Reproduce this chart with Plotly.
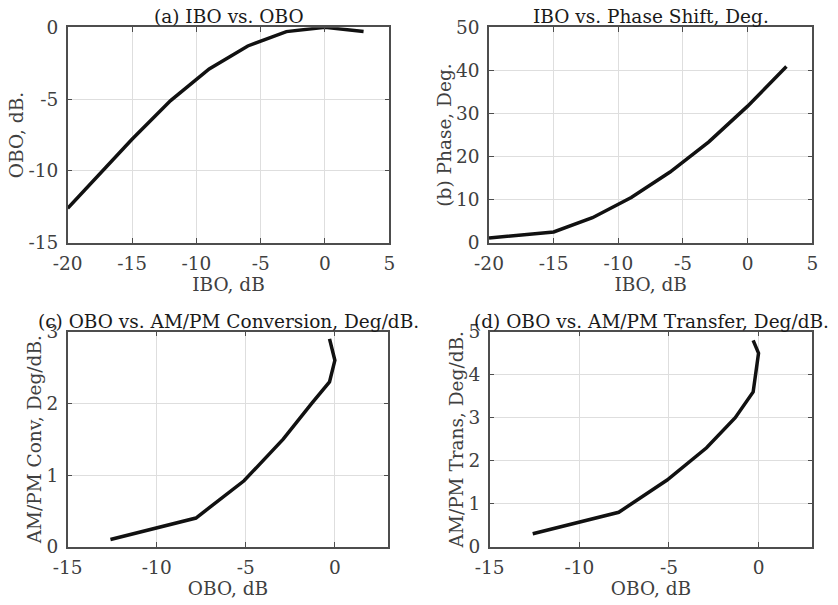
import plotly.graph_objects as go

# Data
ibo = [-20, -15, -12, -9, -6, -3, 0, 3]
obo = [-12.6, -7.8, -5.1, -2.9, -1.3, -0.3, 0, -0.3]
phase = [1.1, 2.5, 5.8, 10.5, 16.4, 23.4, 31.7, 40.9]
ampm_conv = [0.1, 0.4, 0.92, 1.5, 2.0, 2.3, 2.6, 2.9]
ampm_trans = [0.3, 0.8, 1.55, 2.3, 3.0, 3.6, 4.5, 4.8]

titles = ["(a) IBO vs. OBO", "IBO vs. Phase Shift, Deg.",
          "(c) OBO vs. AM/PM Conversion, Deg/dB.", "(d) OBO vs. AM/PM Transfer, Deg/dB."]
xlabels = ["IBO, dB", "IBO, dB", "OBO, dB", "OBO, dB"]
ylabels = ["OBO, dB.", "(b) Phase, Deg.", "AM/PM Conv, Deg/dB.", "AM/PM Trans, Deg/dB."]

xranges = [[-20, 5], [-20, 5], [-15, 3], [-15, 3]]
yranges = [[-15, 0], [0, 50], [0, 3], [0, 5]]
xticks = [[-20, -15, -10, -5, 0, 5], [-20, -15, -10, -5, 0, 5], [-15, -10, -5, 0], [-15, -10, -5, 0]]
yticks = [[-15, -10, -5, 0], [0, 10, 20, 30, 40, 50], [0, 1, 2, 3], [0, 1, 2, 3, 4, 5]]

W, H = 838, 605
FONT = "DejaVu Serif"
FS = 18.5
TXT = "#404040"
TITLE_C = "#1a1a1a"

# pixel boxes (left, right, top, bottom)
boxes = [(67.7, 389.3, 27.3, 242.7), (489.0, 812.3, 27.3, 242.7),
         (67.7, 388.3, 331.7, 546.7), (489.7, 812.3, 331.7, 546.7)]

series = [(ibo, obo), (ibo, phase), (obo, ampm_conv), (obo, ampm_trans)]


def lab(v):
    return str(v).replace("−", "-")


fig = go.Figure()
layout = dict(width=W, height=H, margin=dict(l=0, r=0, t=0, b=0, autoexpand=False),
              paper_bgcolor="white", plot_bgcolor="white", showlegend=False,
              font=dict(family=FONT, size=FS, color=TXT), annotations=[])

for i, ((xs, ys), (l, r, t, b)) in enumerate(zip(series, boxes)):
    n = "" if i == 0 else str(i + 1)
    fig.add_trace(go.Scatter(x=xs, y=ys, mode="lines", xaxis="x" + n, yaxis="y" + n,
                             line=dict(color="#111111", width=3.5), hoverinfo="skip"))
    common = dict(showline=True, linecolor="#4d4d4d", linewidth=1.5, mirror="ticks",
                  ticks="inside", ticklen=5, tickcolor="#4d4d4d", tickwidth=1,
                  showgrid=True, gridcolor="#dedede", gridwidth=1.2, zeroline=False,
                  automargin=False,
                  tickfont=dict(family=FONT, size=FS, color=TXT))
    layout["xaxis" + n] = dict(common, domain=[l / W, r / W], range=xranges[i],
                               tickvals=xticks[i], ticktext=[lab(v) for v in xticks[i]],
                               anchor="y" + n, ticklabelstandoff=3,
                               title=dict(text=xlabels[i], standoff=0,
                                          font=dict(family=FONT, size=FS, color=TXT)))
    layout["yaxis" + n] = dict(common, domain=[1 - b / H, 1 - t / H], range=yranges[i],
                               tickvals=yticks[i], ticktext=[lab(v) for v in yticks[i]],
                               anchor="x" + n, ticklabelstandoff=4,
                               title=dict(text=ylabels[i], standoff=0,
                                          font=dict(family=FONT, size=FS, color=TXT)))
    layout["annotations"].append(dict(text=titles[i], xref="paper", yref="paper",
                                      x=(l + r) / 2 / W, y=1 - t / H, xanchor="center",
                                      yanchor="bottom", yshift=-2, showarrow=False,
                                      font=dict(family=FONT, size=FS, color=TITLE_C)))

fig.update_layout(**layout)
fig.write_html("out.html", config={"displayModeBar": False},
               post_script="document.body.style.margin='0';document.body.style.padding='0';")
